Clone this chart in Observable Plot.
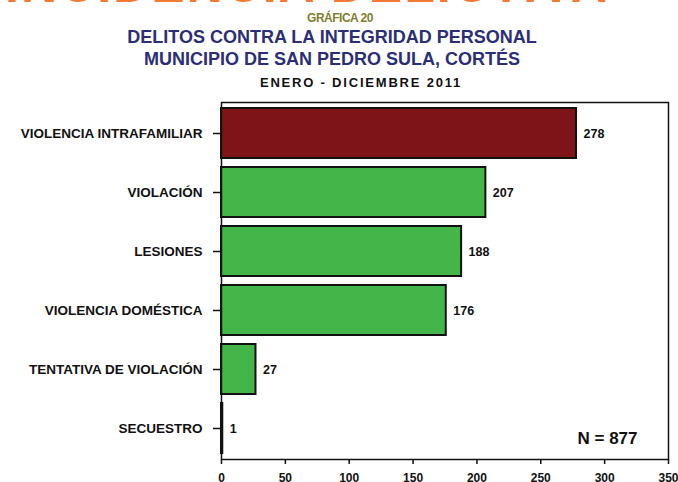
<!DOCTYPE html>
<html><head><meta charset="utf-8">
<script src="https://cdn.jsdelivr.net/npm/d3@7"></script>
<script src="https://cdn.jsdelivr.net/npm/@observablehq/plot@0.6"></script>
<style>
body{margin:0;background:#fff;width:678px;height:482px;overflow:hidden;font-family:"Liberation Sans",Arial,sans-serif;}
#header{position:relative;width:678px;height:90px;overflow:hidden;}
.t{position:absolute;width:678px;text-align:center;white-space:nowrap;font-weight:bold;}
#chart svg{display:block;}
</style></head><body>
<div id="header">
  <div class="t" style="top:-40px;left:-32px;font-size:50px;line-height:50px;color:#f27a35;letter-spacing:2px">INCIDENCIA DELICTIVA</div>
  <div class="t" style="top:12px;left:1px;font-size:12px;line-height:12px;color:#7f7f2f;letter-spacing:-0.5px">GRÁFICA 20</div>
  <div class="t" style="top:28px;left:-7px;font-size:18px;line-height:18px;color:#2b2e78">DELITOS CONTRA LA INTEGRIDAD PERSONAL</div>
  <div class="t" style="top:50px;left:-7px;font-size:18px;line-height:18px;color:#2b2e78">MUNICIPIO DE SAN PEDRO SULA, CORTÉS</div>
  <div class="t" style="top:76px;left:22px;font-size:13px;line-height:13px;color:#111;letter-spacing:1.8px">ENERO - DICIEMBRE 2011</div>
</div>
<div id="chart"></div>
<script>
const categories = ["VIOLENCIA INTRAFAMILIAR", "VIOLACIÓN", "LESIONES", "VIOLENCIA DOMÉSTICA", "TENTATIVA DE VIOLACIÓN", "SECUESTRO"];
const values = [278, 207, 188, 176, 27, 1];
const groups = ["destacado", "otros", "otros", "otros", "otros", "otros"];
const xTicks = [0, 50, 100, 150, 200, 250, 300, 350];

const data = categories.map((c, i) => ({categoria: c, casos: values[i], grupo: groups[i]}));
const totalLabel = `N = ${d3.sum(values)}`;

const chart = Plot.plot({
  width: 678, height: 392,
  marginTop: 12, marginBottom: 23, marginLeft: 221, marginRight: 10,
  style: {fontFamily: '"Liberation Sans", Arial, sans-serif', fontWeight: "bold", color: "#111", background: "white", overflow: "visible"},
  x: {domain: [0, 350], ticks: xTicks, label: null},
  y: {domain: categories, paddingInner: 0.16, paddingOuter: 0.08, label: null},
  color: {domain: ["destacado", "otros"], range: ["#7e1417", "#44b649"]},
  marks: [
    Plot.barX(data, {x: "casos", y: "categoria", fill: "grupo", stroke: "#111", strokeWidth: 2}),
    Plot.frame({stroke: "#111", strokeWidth: 1.5}),
    Plot.axisX({ticks: xTicks, tickSize: 5, tickPadding: 9, fontSize: 12, fontWeight: "bold", stroke: "#111", strokeWidth: 1.5, label: null}),
    Plot.axisY({tickSize: 8, tickPadding: 11, fontSize: 13.5, fontWeight: "bold", stroke: "#111", strokeWidth: 1.5, label: null}),
    Plot.text(data, {x: "casos", y: "categoria", text: d => String(d.casos), dx: 7, textAnchor: "start", fontSize: 12.5, fontWeight: "bold", fill: "#111"}),
    Plot.text([totalLabel], {frameAnchor: "bottom-right", text: d => d, dx: -31, dy: -16, textAnchor: "end", lineAnchor: "bottom", fontSize: 17, fontWeight: "bold", fill: "#111"})
  ]
});
document.getElementById("chart").appendChild(chart);
</script>
</body></html>
